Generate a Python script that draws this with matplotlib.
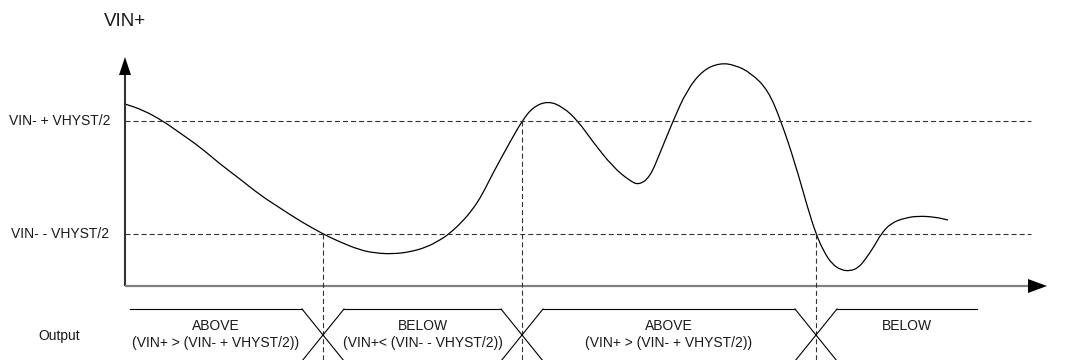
import matplotlib

matplotlib.use("Agg")
import matplotlib.pyplot as plt
from matplotlib.patches import Polygon, PathPatch
from matplotlib.path import Path

plt.rcParams["font.family"] = ["Liberation Sans", "DejaVu Sans"]
plt.rcParams["lines.scale_dashes"] = False

# VIN+ waveform (pixel space, y down)
curve_x = [125, 143, 163, 180, 200, 220, 240, 260, 280, 300, 323, 340, 360, 375,
           392, 410, 427, 440, 449, 462, 473, 482, 493, 510, 522, 533, 548, 563,
           578, 593, 613, 630, 639, 650, 660, 673, 687, 703, 720, 735, 751, 768,
           781, 795, 808, 816, 824, 832, 841, 850, 858, 865, 875, 881, 891, 905,
           918, 935, 948]
curve_y = [104, 110, 121, 133, 147, 164, 179, 195, 208, 221, 234, 242, 250, 253,
           254, 252, 247, 240, 234, 222, 209, 195, 173, 142, 121, 107, 101, 107,
           121, 142, 167, 181, 185, 177, 153, 121, 90, 70, 63, 65, 73, 90,
           121, 163, 209, 234, 252, 264, 270, 271, 268, 260, 245, 234, 223, 218,
           216, 217, 220]

# threshold levels and labels
thr_y = [121, 234]
thr_labels = ["VIN- + VHYST/2", "VIN- - VHYST/2"]

# output transitions (where VIN+ crosses a threshold)
trans_x = [323, 522, 816]
trans_from = [234, 121, 234]
states = ["ABOVE", "BELOW", "ABOVE", "BELOW"]
conds = ["(VIN+ > (VIN- + VHYST/2))", "(VIN+< (VIN- - VHYST/2))",
         "(VIN+ > (VIN- + VHYST/2))", ""]

# layout
W, H = 1078, 360
x0, ax_y, y_top, x_end = 125, 286, 75, 1028
thr_end = 1031
out_x0, out_x1 = 130, 977
out_top, out_mid = 309, 335
half_w = 21


def smooth_path(xs, ys):
    """Quadratic bezier through midpoints, read points act as control points."""
    pts = list(zip(xs, ys))
    verts = [pts[0]]
    codes = [Path.MOVETO]
    mid = lambda a, b: ((a[0] + b[0]) / 2, (a[1] + b[1]) / 2)
    verts.append(mid(pts[0], pts[1]))
    codes.append(Path.LINETO)
    for i in range(1, len(pts) - 1):
        verts += [pts[i], mid(pts[i], pts[i + 1])]
        codes += [Path.CURVE3, Path.CURVE3]
    verts.append(pts[-1])
    codes.append(Path.LINETO)
    return Path(verts, codes)


fig = plt.figure(figsize=(W / 100, H / 100), dpi=100)
ax = fig.add_axes([0, 0, 1, 1])
ax.set_xlim(0, W)
ax.set_ylim(H, 0)
ax.axis("off")

txt = "#1a1a1a"

# axes with arrow heads
ax.plot([x0, x0], [ax_y, y_top], color="#333333", lw=1.5, solid_capstyle="butt")
ax.plot([x0, x_end], [ax_y, ax_y], color="#808080", lw=1.6, solid_capstyle="butt")
ax.add_patch(Polygon([[x0 - 6, y_top], [x0 + 6, y_top], [x0, y_top - 18]],
                     closed=True, color="black", lw=0))
ax.add_patch(Polygon([[x_end, ax_y - 7], [x_end, ax_y + 7], [x_end + 19, ax_y]],
                     closed=True, color="black", lw=0))

# thresholds
for y, lab in zip(thr_y, thr_labels):
    ax.plot([x0, thr_end], [y, y], color="#333333", lw=0.8, dashes=(3.6, 2.2))
    ax.text(60, y, lab, ha="center", va="center", fontsize=10, color=txt)

ax.text(125, 22, "VIN+", ha="center", va="center", fontsize=13.5, color=txt)
ax.text(59, 336, "Output", ha="center", va="center", fontsize=10, color=txt)

# VIN+ signal
ax.add_patch(PathPatch(smooth_path(curve_x, curve_y), fill=False,
                       edgecolor="black", lw=0.9))

# output diagram
edges = [out_x0] + trans_x + [out_x1]
for i in range(len(states)):
    left = edges[i] + (half_w if i > 0 else 0)
    right = edges[i + 1] - (half_w if i < len(states) - 1 else 0)
    ax.plot([left, right], [out_top, out_top], color="black", lw=0.8)
    cx = (left + right) / 2
    ax.text(cx, 326, states[i], ha="center", va="center", fontsize=10, color=txt)
    if conds[i]:
        ax.text(cx, 343, conds[i], ha="center", va="center", fontsize=10, color=txt)

k = half_w / (out_mid - out_top)
dy = H + 2 - out_top
for tx, ty in zip(trans_x, trans_from):
    ax.plot([tx, tx], [ty, H + 2], color="#333333", lw=0.8, dashes=(3.6, 2.2))
    ax.plot([tx - half_w, tx - half_w + k * dy], [out_top, H + 2], color="black", lw=0.8)
    ax.plot([tx + half_w, tx + half_w - k * dy], [out_top, H + 2], color="black", lw=0.8)

fig.savefig("out.png", dpi=100)
